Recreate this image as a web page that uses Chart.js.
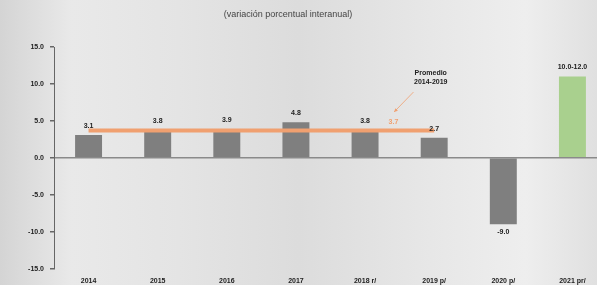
<!DOCTYPE html>
<html>
<head>
<meta charset="utf-8">
<script src="https://cdn.jsdelivr.net/npm/chart.js@4"></script>
<style>
  html, body { margin: 0; padding: 0; overflow: hidden; }
  body {
    width: 597px; height: 285px;
    background: linear-gradient(90deg, #d4d4d4 0%, #e9e9e9 12%, #e4e4e4 30%, #dcdcdc 50%, #e6e6e6 70%, #eeeeee 88%, #e0e0e0 100%);
  }
  #wrap { position: relative; width: 612px; height: 285px; }
  canvas { display: block; }
</style>
</head>
<body>
<div id="wrap"><canvas id="chart"></canvas></div>
<script>
'use strict';

// datos
const years = ['2014', '2015', '2016', '2017', '2018 r/', '2019 p/', '2020 p/', '2021 pr/'];
const growth = [3.1, 3.8, 3.9, 4.8, 3.8, 2.7, -9.0, 11.0];
const growthLabels = ['3.1', '3.8', '3.9', '4.8', '3.8', '2.7', '-9.0', '10.0-12.0'];
const average = [3.7, 3.7, 3.7, 3.7, 3.7, 3.7, null, null];
const averageLabel = '3.7';
const yTicks = [15, 10, 5, 0, -5, -10, -15];
const subtitle = '(variación porcentual interanual)';

const GREY = '#7f7f7f';
const GREEN = '#a9d08e';
const ORANGE = 'rgb(240,160,112)';
const FONT = '"Liberation Sans", Arial, sans-serif';

let barColors = growth.map((v, i) => i === growth.length - 1 ? GREEN : GREY);

// subtitulo (la imagen original esta recortada a la derecha)
const subtitlePlugin = {
  id: 'subtitlePlugin',
  afterDraw(chart) {
    let ctx = chart.ctx;
    ctx.save();
    ctx.font = '9px ' + FONT;
    ctx.fillStyle = '#444';
    ctx.textAlign = 'center';
    ctx.textBaseline = 'middle';
    ctx.fillText(subtitle, 288, 15);
    ctx.restore();
  }
};

// etiquetas de valor encima/debajo de las barras + anotacion del promedio
const valueLabels = {
  id: 'valueLabels',
  afterDatasetsDraw(chart) {
    let ctx = chart.ctx;
    let meta = chart.getDatasetMeta(1);
    ctx.save();
    ctx.font = 'bold 7px ' + FONT;
    ctx.fillStyle = '#222';
    ctx.textAlign = 'center';
    ctx.textBaseline = 'middle';
    meta.data.forEach((bar, i) => {
      let y = growth[i] >= 0 ? bar.y - 9 : bar.y + 8;
      ctx.fillText(growthLabels[i], bar.x, y);
    });

    let x = chart.scales.x;
    let yS = chart.scales.y;
    let step = x.getPixelForValue(1) - x.getPixelForValue(0);
    let base = x.getPixelForValue(4);

    // texto Promedio
    ctx.fillText('Promedio', base + step * 0.95, yS.getPixelForValue(11.5));
    ctx.fillText('2014-2019', base + step * 0.95, yS.getPixelForValue(10.2));

    // flecha
    let x1 = base + step * 0.70, y1 = yS.getPixelForValue(8.9);
    let x2 = base + step * 0.42, y2 = yS.getPixelForValue(6.2);
    ctx.strokeStyle = ORANGE;
    ctx.fillStyle = ORANGE;
    ctx.lineWidth = 0.8;
    ctx.beginPath();
    ctx.moveTo(x1, y1);
    ctx.lineTo(x2, y2);
    ctx.stroke();
    let ang = Math.atan2(y2 - y1, x2 - x1);
    ctx.beginPath();
    ctx.moveTo(x2, y2);
    ctx.lineTo(x2 - 4 * Math.cos(ang - 0.45), y2 - 4 * Math.sin(ang - 0.45));
    ctx.lineTo(x2 - 4 * Math.cos(ang + 0.45), y2 - 4 * Math.sin(ang + 0.45));
    ctx.closePath();
    ctx.fill();

    ctx.fillText(averageLabel, base + step * 0.41, yS.getPixelForValue(4.9));
    ctx.restore();
  }
};

let config = {
  data: {
    labels: years,
    datasets: [
      {
        type: 'line',
        label: 'Promedio 2014-2019',
        data: average,
        borderColor: ORANGE,
        borderWidth: 4,
        pointRadius: 0,
        order: 0,
      },
      {
        type: 'bar',
        label: 'Variación',
        data: growth,
        backgroundColor: barColors,
        barPercentage: 0.39,
        categoryPercentage: 1,
        order: 1,
      },
    ],
  },
  options: {
    responsive: false,
    animation: false,
    layout: { padding: { left: 0, right: 5, top: 47, bottom: 0 } },
    plugins: {
      legend: { display: false },
      tooltip: { enabled: false },
      title: { display: false },
    },
    scales: {
      x: {
        grid: { display: false },
        border: { display: false },
        ticks: {
          color: '#222',
          font: { family: FONT, size: 7, weight: 'bold' },
          padding: 0,
          maxRotation: 0,
          autoSkip: false,
        },
      },
      y: {
        min: -15,
        max: 15,
        afterFit: s => { s.width = 54; },
        afterBuildTicks: s => { s.ticks = yTicks.map(v => ({ value: v })); },
        border: { display: true, color: '#666', width: 1 },
        grid: {
          color: c => c.tick && c.tick.value === 0 ? '#8a8a8a' : 'transparent',
          tickColor: '#666',
          tickLength: 4,
          lineWidth: 1.5,
        },
        ticks: {
          color: '#222',
          font: { family: FONT, size: 7, weight: 'bold' },
          padding: 6,
          callback: v => v.toFixed(1),
        },
      },
    },
  },
  plugins: [valueLabels, subtitlePlugin],
};

let canvasElem = document.getElementById('chart');
canvasElem.width = 612;
canvasElem.height = 285;
new Chart(canvasElem, config);
</script>
</body>
</html>
